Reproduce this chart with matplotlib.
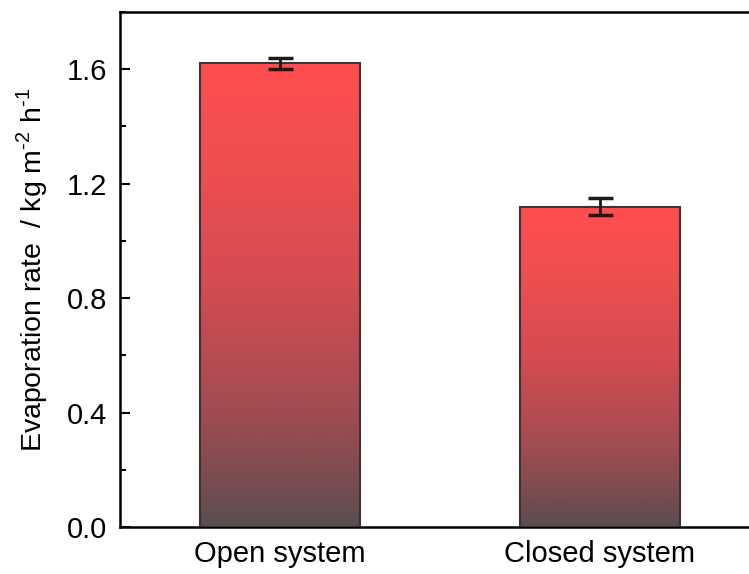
import numpy as np
import matplotlib
matplotlib.use("Agg")
import matplotlib.pyplot as plt
from matplotlib.colors import LinearSegmentedColormap
from matplotlib.ticker import MultipleLocator, FormatStrFormatter

plt.rcParams['font.family'] = ['Liberation Sans', 'DejaVu Sans']
plt.rcParams['mathtext.fontset'] = 'custom'
plt.rcParams['mathtext.rm'] = 'Liberation Sans'

# Evaporation rates with standard deviations
systems = ["Open system", "Closed system"]
rates = [1.62, 1.12]
errors = [0.02, 0.03]

bar_width = 0.5
grad = LinearSegmentedColormap.from_list(
    "redgray",
    [(0.0, "#5a4e50"), (0.1, "#7a4c50"), (0.25, "#a04c50"),
     (0.5, "#d04c50"), (0.75, "#ea4e50"), (1.0, "#ff4f4f")])

fig = plt.figure(figsize=(7.49, 5.74), dpi=100)
# right spine sits just past the figure edge
ax = fig.add_axes([120 / 749, 47 / 574, 640 / 749, 515 / 574])

x = np.arange(1, len(systems) + 1)
bars = ax.bar(x, rates, width=bar_width, color="none", edgecolor="#3c3434",
              linewidth=1.5, zorder=3)

# vertical red-to-gray gradient inside each bar
fill = np.linspace(0, 1, 256).reshape(-1, 1)
for bar, xi, h in zip(bars, x, rates):
    im = ax.imshow(fill, cmap=grad, origin="lower", aspect="auto",
                   extent=(xi - bar_width / 2, xi + bar_width / 2, 0, h), zorder=2)
    im.set_clip_path(bar)

ax.errorbar(x, rates, yerr=errors, fmt="none", ecolor="#1e1a1a",
            elinewidth=2, capsize=9, capthick=2.5, zorder=4)

ax.set_xlim(0.5, 2.5)
ax.set_ylim(0, 1.8)
ax.set_xticks(x)
ax.set_xticklabels(systems)
ax.yaxis.set_major_locator(MultipleLocator(0.4))
ax.yaxis.set_minor_locator(MultipleLocator(0.2))
ax.yaxis.set_major_formatter(FormatStrFormatter("%.1f"))

ax.tick_params(axis="both", which="major", direction="in", length=7, width=1.5,
               labelsize=21, pad=9)
ax.tick_params(axis="y", which="minor", direction="in", length=4, width=1.5)
for side in ax.spines.values():
    side.set_linewidth(1.8)

ax.set_ylabel(r"Evaporation rate  / kg m$^{\text{-}2}$ h$^{\text{-}1}$",
              fontsize=20.5, labelpad=12)

fig.savefig("out.png", dpi=100)
